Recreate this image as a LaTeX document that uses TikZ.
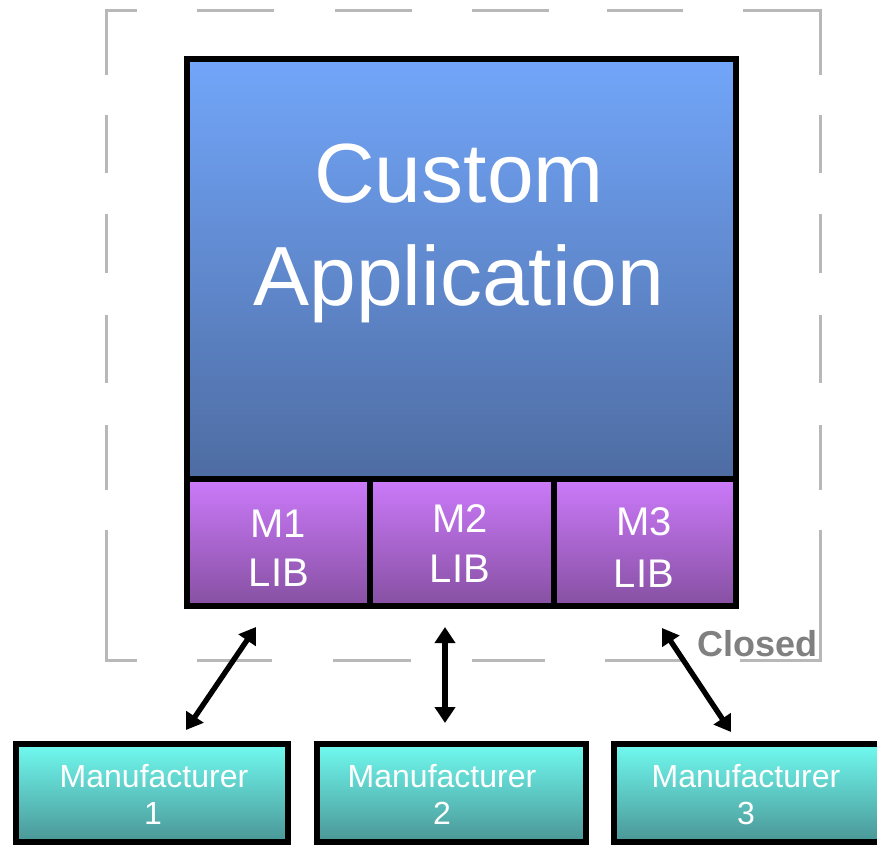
\documentclass[tikz,border=0pt]{standalone}
\usepackage{fontspec}
\setmainfont{Liberation Sans}
\usetikzlibrary{arrows.meta}
\definecolor{bluetop}{RGB}{114,166,250}
\definecolor{bluebot}{RGB}{78,108,162}
\definecolor{purtop}{RGB}{204,122,250}
\definecolor{purbot}{RGB}{134,80,162}
\definecolor{cyantop}{RGB}{112,250,240}
\definecolor{cyanbot}{RGB}{74,150,150}
\definecolor{dashgray}{RGB}{184,184,184}
\definecolor{closedgray}{RGB}{128,128,128}
\tikzset{
  frame/.style={draw=dashgray, line width=2.25pt, line join=miter},
  box/.style={draw=black, line width=4.5pt, inner sep=0pt, rectangle},
  appbox/.style={box, top color=bluetop, bottom color=bluebot,
     minimum width=548.5*0.75pt, minimum height=420*0.75pt},
  libcell/.style={box, top color=purtop, bottom color=purbot,
     minimum height=127.5*0.75pt, minimum width=#1*0.75pt},
  manbox/.style={box, top color=cyantop, bottom color=cyanbot,
     minimum height=98*0.75pt, minimum width=#1*0.75pt},
  bigtxt/.style={text=white, anchor=base, inner sep=0pt, font=\fontsize{63}{63}\selectfont},
  libtxt/.style={text=white, anchor=base, inner sep=0pt, font=\fontsize{30}{30}\selectfont},
  mantxt/.style={text=white, anchor=base, inner sep=0pt, font=\fontsize{24}{24}\selectfont},
  closedtxt/.style={text=closedgray, anchor=base west, inner sep=0pt, font=\fontsize{27}{27}\selectfont\bfseries},
  link/.style={{Triangle[length=12pt,width=15pt]}-{Triangle[length=12pt,width=15pt]}, line width=4pt, black}
}
\begin{document}
\begin{tikzpicture}[x=0.75pt, y=-0.75pt]
\useasboundingbox (0,0) rectangle (877,844);

% dashed "closed" frame
\draw[frame] (106,75) -- (106,10) -- (137,10);
\draw[frame] (197,10) -- (274,10);
\draw[frame] (335,10) -- (412,10);
\draw[frame] (472,10) -- (549,10);
\draw[frame] (607,10) -- (683,10);
\draw[frame] (743,10) -- (820,10) -- (820,75);
\draw[frame] (106,115) -- (106,173);
\draw[frame] (106,214) -- (106,273);
\draw[frame] (106,315) -- (106,383);
\draw[frame] (106,425) -- (106,490);
\draw[frame] (106,530) -- (106,660) -- (137,660);
\draw[frame] (820,115) -- (820,173);
\draw[frame] (820,214) -- (820,273);
\draw[frame] (820,315) -- (820,383);
\draw[frame] (820,425) -- (820,490);
\draw[frame] (820,530) -- (820,660) -- (740,660);
\draw[frame] (197,660) -- (272,660);
\draw[frame] (333,660) -- (411,660);
\draw[frame] (472,660) -- (545,660);
\draw[frame] (605,660) -- (685,660);

% application box
\node[appbox] (app) at (461.25,268.5) {};
\node[libcell=183] (m1) at (278.5,542.25) {};
\node[libcell=184] (m2) at (462,542.25) {};
\node[libcell=181.5] (m3) at (644.75,542.25) {};

\node[bigtxt] (t1) at (459,202) {Custom};
\node[bigtxt] (t2) at (459,305) {Application};

\node[libtxt] (m1a) at (278,537) {M1};
\node[libtxt] (m1b) at (279,586) {LIB};
\node[libtxt] (m2a) at (460,532) {M2};
\node[libtxt] (m2b) at (460,582) {LIB};
\node[libtxt] (m3a) at (644,535) {M3};
\node[libtxt] (m3b) at (644,587) {LIB};

% manufacturers
\node[manbox=271.5] (f1) at (151.75,793) {};
\node[manbox=269] (f2) at (451,793) {};
\node[manbox=271] (f3) at (749.5,793) {};

\node[mantxt] (f1a) at (154,787) {Manufacturer};
\node[mantxt] (f1b) at (153,824) {1};
\node[mantxt] (f2a) at (442,787) {Manufacturer};
\node[mantxt] (f2b) at (442,824) {2};
\node[mantxt] (f3a) at (746,787) {Manufacturer};
\node[mantxt] (f3b) at (746,824) {3};

% connectors
\coordinate (a1s) at (256,627);
\coordinate (a1e) at (186,730);
\coordinate (a2s) at (445,627);
\coordinate (a2e) at (445,723);
\coordinate (a3s) at (662,628);
\coordinate (a3e) at (731,732);
\draw[link] (a1s) -- (a1e);
\draw[link] (a2s) -- (a2e);
\draw[link] (a3s) -- (a3e);

\node[closedtxt] (closed) at (697,656) {Closed};
\end{tikzpicture}
\end{document}
